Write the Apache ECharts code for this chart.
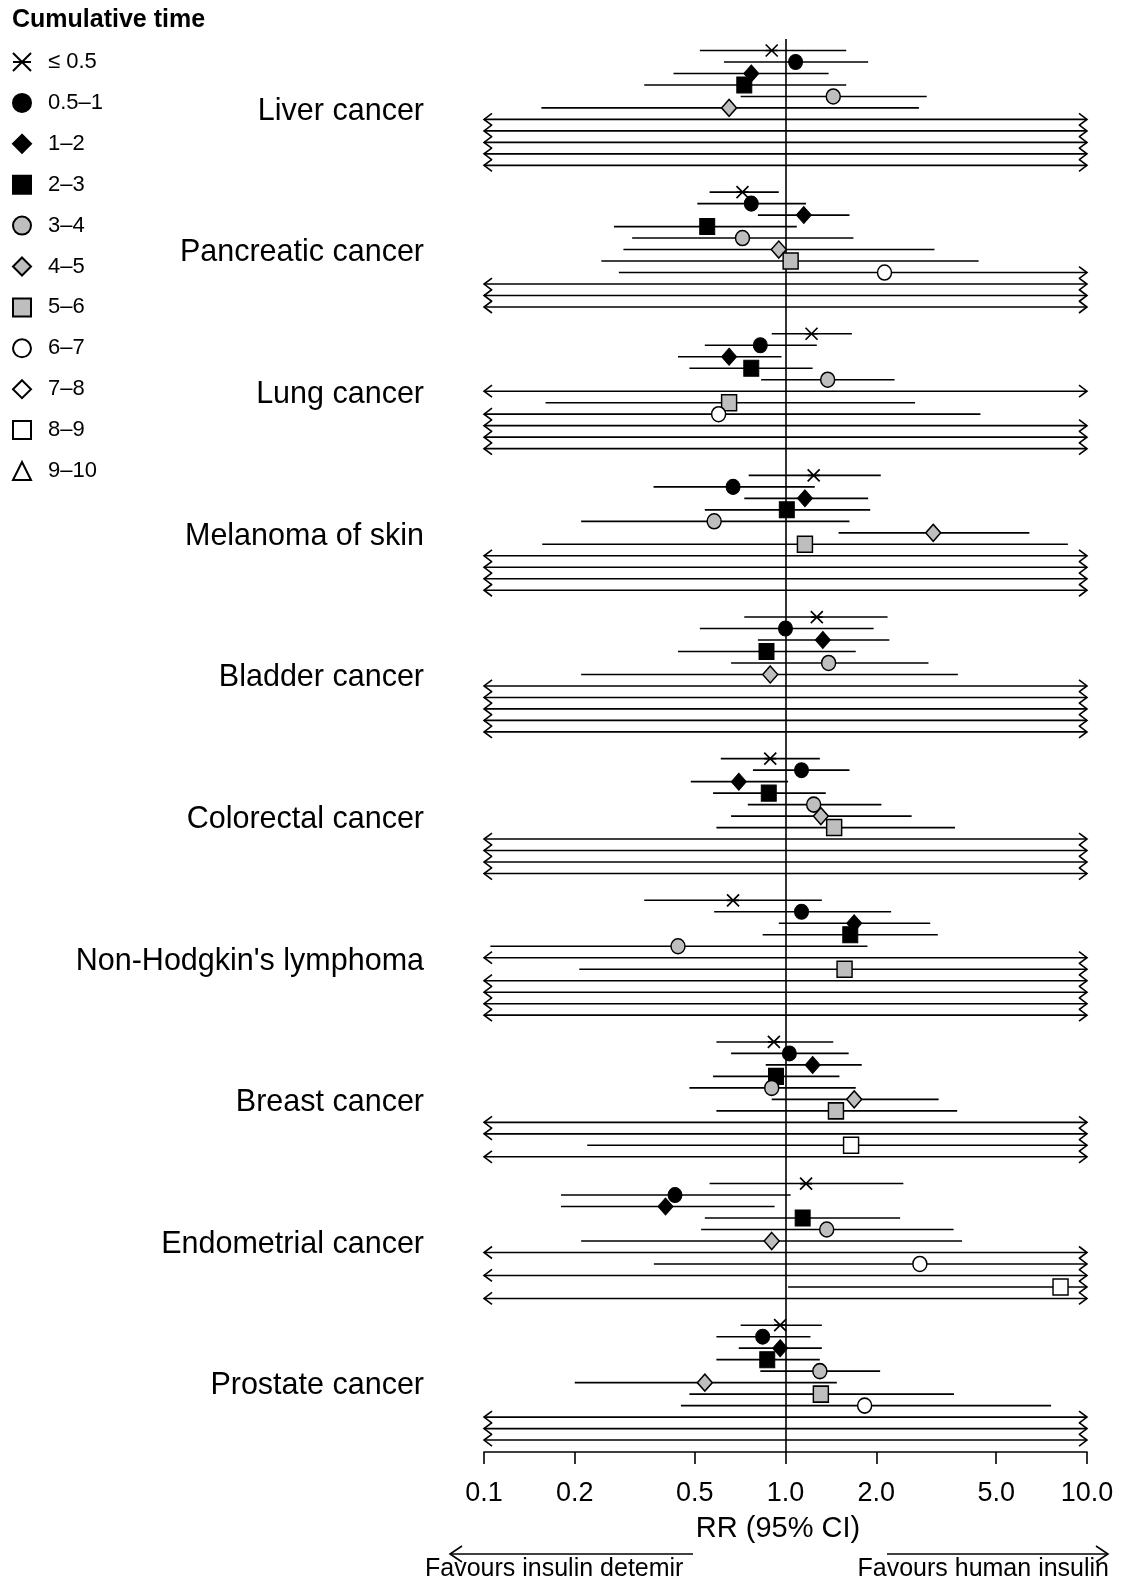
<!DOCTYPE html>
<html>
<head>
<meta charset="utf-8">
<script src="https://cdn.jsdelivr.net/npm/echarts@6/dist/echarts.min.js"></script>
<style>
html,body{margin:0;padding:0;background:#fff;}
#chart{width:1124px;height:1579px;}
</style>
</head>
<body>
<div id="chart"></div>
<script>
// ---------------- data ----------------
const cancers = ['Liver cancer','Pancreatic cancer','Lung cancer','Melanoma of skin','Bladder cancer',
  'Colorectal cancer',"Non-Hodgkin's lymphoma",'Breast cancer','Endometrial cancer','Prostate cancer'];
const timeBins = ['\u2264 0.5','0.5\u20131','1\u20132','2\u20133','3\u20134','4\u20135','5\u20136','6\u20137','7\u20138','8\u20139','9\u201310'];
const xTicks = [0.1, 0.2, 0.5, 1, 2, 5, 10];

// RR point estimates (null = not estimable), lower / upper 95% CI (null = beyond axis range)
const liverRR = [0.90, 1.08, 0.77, 0.73, 1.44, 0.65, null, null, null, null, null];
const liverLo = [0.52, 0.625, 0.425, 0.34, 0.71, 0.155, null, null, null, null, null];
const liverHi = [1.59, 1.88, 1.39, 1.59, 2.94, 2.77, null, null, null, null, null];

const pancRR = [0.72, 0.77, 1.15, 0.55, 0.72, 0.95, 1.04, 2.13, null, null, null];
const pancLo = [0.56, 0.51, 0.81, 0.27, 0.31, 0.29, 0.245, 0.28, null, null, null];
const pancHi = [0.95, 1.17, 1.63, 1.09, 1.68, 3.12, 4.37, null, null, null, null];

const lungRR = [1.22, 0.825, 0.65, 0.77, 1.38, null, 0.65, 0.60, null, null, null];
const lungLo = [0.90, 0.54, 0.44, 0.48, 0.83, null, 0.16, null, null, null, null];
const lungHi = [1.66, 1.27, 0.97, 1.23, 2.30, null, 2.69, 4.43, null, null, null];

const melaRR = [1.24, 0.67, 1.16, 1.01, 0.58, 3.09, 1.16, null, null, null, null];
const melaLo = [0.755, 0.365, 0.73, 0.54, 0.21, 1.50, 0.156, null, null, null, null];
const melaHi = [2.07, 1.25, 1.88, 1.91, 1.63, 6.44, 8.64, null, null, null, null];

const bladRR = [1.27, 1.00, 1.33, 0.865, 1.39, 0.89, null, null, null, null, null];
const bladLo = [0.73, 0.52, 0.81, 0.44, 0.66, 0.21, null, null, null, null, null];
const bladHi = [2.18, 1.96, 2.21, 1.71, 2.98, 3.73, null, null, null, null, null];

const coloRR = [0.89, 1.13, 0.70, 0.88, 1.24, 1.31, 1.45, null, null, null, null];
const coloLo = [0.61, 0.78, 0.485, 0.575, 0.75, 0.66, 0.59, null, null, null, null];
const coloHi = [1.30, 1.63, 1.02, 1.36, 2.08, 2.62, 3.65, null, null, null, null];

const nhlRR = [0.67, 1.13, 1.69, 1.64, 0.44, null, 1.57, null, null, null, null];
const nhlLo = [0.34, 0.58, 0.95, 0.84, 0.105, null, 0.207, null, null, null, null];
const nhlHi = [1.32, 2.24, 3.02, 3.20, 1.87, null, null, null, null, null, null];

const breaRR = [0.915, 1.03, 1.23, 0.93, 0.90, 1.69, 1.47, null, null, 1.65, null];
const breaLo = [0.59, 0.66, 0.86, 0.575, 0.48, 0.90, 0.59, null, null, 0.22, null];
const breaHi = [1.44, 1.62, 1.79, 1.51, 1.71, 3.22, 3.71, null, null, null, null];

const endoRR = [1.17, 0.43, 0.40, 1.14, 1.37, 0.90, null, 2.79, null, 8.17, null];
const endoLo = [0.56, 0.18, 0.18, 0.54, 0.525, 0.21, null, 0.366, null, 1.02, null];
const endoHi = [2.46, 1.04, 0.92, 2.40, 3.61, 3.85, null, null, null, null, null];

const prosRR = [0.96, 0.84, 0.96, 0.87, 1.30, 0.54, 1.31, 1.83, null, null, null];
const prosLo = [0.71, 0.59, 0.70, 0.59, 0.825, 0.20, 0.48, 0.45, null, null, null];
const prosHi = [1.32, 1.21, 1.32, 1.30, 2.06, 1.48, 3.62, 7.6, null, null, null];

// ---------------- build ----------------
const RR = [liverRR, pancRR, lungRR, melaRR, bladRR, coloRR, nhlRR, breaRR, endoRR, prosRR];
const LO = [liverLo, pancLo, lungLo, melaLo, bladLo, coloLo, nhlLo, breaLo, endoLo, prosLo];
const HI = [liverHi, pancHi, lungHi, melaHi, bladHi, coloHi, nhlHi, breaHi, endoHi, prosHi];

const STEP = 12.33;          // rows per cancer block incl. gap
const LABEL_ROW = 5.3;       // where the cancer name sits inside its block
const XMIN = 0.1, XMAX = 10;
const rowY = (g, k) => g * STEP + k;
const FONT = "'Liberation Sans', Arial, sans-serif";

const ciData = [];
cancers.forEach((c, g) => {
  timeBins.forEach((t, k) => {
    const est = RR[g][k];
    const lo = est == null ? null : LO[g][k];
    const hi = est == null ? null : HI[g][k];
    ciData.push([lo == null ? XMIN : lo, hi == null ? XMAX : hi, rowY(g, k), lo == null ? 1 : 0, hi == null ? 1 : 0]);
  });
});

const GREY = '#bebebe';
const X_PATH = 'path://M0,0L10,10M10,0L0,10M0,5L10,5';
const styles = [
  { symbol: X_PATH, fill: '#000', size: [12, 12], bw: 1.7 },
  { symbol: 'circle', fill: '#000', size: [14, 15], bw: 1 },
  { symbol: 'diamond', fill: '#000', size: [15, 17], bw: 1 },
  { symbol: 'rect', fill: '#000', size: [15, 16], bw: 1 },
  { symbol: 'circle', fill: GREY, size: [14, 15], bw: 1.5 },
  { symbol: 'diamond', fill: GREY, size: [15, 17], bw: 1.5 },
  { symbol: 'rect', fill: GREY, size: [15, 16], bw: 1.5 },
  { symbol: 'circle', fill: '#fff', size: [14, 15], bw: 1.5 },
  { symbol: 'diamond', fill: '#fff', size: [15, 17], bw: 1.5 },
  { symbol: 'rect', fill: '#fff', size: [15, 16], bw: 1.5 },
  { symbol: 'triangle', fill: '#fff', size: [15, 15], bw: 1.5 }
];

const AH = 8, AW = 6;
const series = [{
  type: 'custom',
  name: 'ci',
  z: 2,
  silent: true,
  encode: { x: [0, 1], y: 2 },
  data: ciData,
  renderItem: function (params, api) {
    const y = api.value(2);
    const p1 = api.coord([api.value(0), y]);
    const p2 = api.coord([api.value(1), y]);
    const st = { stroke: '#000', lineWidth: 1.6, fill: 'none' };
    const ch = [{ type: 'line', shape: { x1: p1[0], y1: p1[1], x2: p2[0], y2: p2[1] }, style: st }];
    if (api.value(3)) ch.push({ type: 'polyline', shape: { points: [[p1[0] + AH, p1[1] - AW], [p1[0], p1[1]], [p1[0] + AH, p1[1] + AW]] }, style: st });
    if (api.value(4)) ch.push({ type: 'polyline', shape: { points: [[p2[0] - AH, p2[1] - AW], [p2[0], p2[1]], [p2[0] - AH, p2[1] + AW]] }, style: st });
    return { type: 'group', children: ch };
  },
  markLine: {
    silent: true, symbol: ['none', 'none'], label: { show: false },
    lineStyle: { color: '#000', width: 1.6, type: 'solid' },
    data: [{ xAxis: 1 }]
  }
}];

timeBins.forEach((t, k) => {
  const s = styles[k];
  const data = [];
  cancers.forEach((c, g) => { if (RR[g][k] != null) data.push([RR[g][k], rowY(g, k)]); });
  series.push({
    type: 'scatter', name: t, z: 5, silent: true,
    symbol: s.symbol, symbolSize: s.size,
    itemStyle: { color: s.fill, borderColor: '#000', borderWidth: s.bw, opacity: 1 },
    data: data
  });
});

const chart = echarts.init(document.getElementById('chart'), null, { renderer: 'canvas' });
chart.setOption({
  animation: false,
  backgroundColor: '#fff',
  textStyle: { fontFamily: FONT, color: '#000' },
  title: { text: 'Cumulative time', left: 12, top: 8, padding: 0, textStyle: { fontSize: 25, fontWeight: 'bold', color: '#000', fontFamily: FONT } },
  legend: {
    data: timeBins, orient: 'vertical', left: 12, top: 51, padding: 0,
    itemWidth: 18, itemHeight: 18, itemGap: 18.9, selectedMode: false,
    textStyle: { fontSize: 22, color: '#000', fontFamily: FONT, lineHeight: 18, padding: [0, 0, 0, 12] }
  },
  grid: { left: 484, width: 603, top: 39, height: 1412.9, containLabel: false },
  xAxis: {
    type: 'log', logBase: 10, min: XMIN, max: XMAX,
    splitLine: { show: false }, minorTick: { show: false },
    axisLine: { show: true, onZero: false, lineStyle: { color: '#000', width: 1.6 } },
    axisTick: { show: true, length: 12, customValues: xTicks, lineStyle: { color: '#000', width: 1.6 } },
    axisLabel: { customValues: xTicks, formatter: v => Number(v).toFixed(1), fontSize: 27, color: '#000', margin: 28, fontFamily: FONT },
    name: 'RR (95% CI)', nameLocation: 'middle', nameGap: 63,
    nameTextStyle: { fontSize: 29, color: '#000', fontFamily: FONT, padding: [0, 15, 0, 0] }
  },
  yAxis: {
    type: 'value', inverse: true, min: -1, max: 122,
    splitLine: { show: false }, axisLine: { show: false }, axisTick: { show: false },
    axisLabel: {
      customValues: cancers.map((c, g) => rowY(g, LABEL_ROW)),
      formatter: v => cancers[Math.round((v - LABEL_ROW) / STEP)] || '',
      fontSize: 30.5, color: '#000', margin: 60, fontFamily: FONT
    }
  },
  graphic: [
    { type: 'line', shape: { x1: 450, y1: 1554, x2: 693, y2: 1554 }, style: { stroke: '#000', lineWidth: 1.6 } },
    { type: 'polyline', shape: { points: [[462, 1546], [450, 1554], [462, 1562]] }, style: { stroke: '#000', lineWidth: 1.6, fill: 'none' } },
    { type: 'line', shape: { x1: 887, y1: 1554, x2: 1108, y2: 1554 }, style: { stroke: '#000', lineWidth: 1.6 } },
    { type: 'polyline', shape: { points: [[1096, 1546], [1108, 1554], [1096, 1562]] }, style: { stroke: '#000', lineWidth: 1.6, fill: 'none' } },
    { type: 'text', x: 425, y: 1569, style: { text: 'Favours insulin detemir', fontSize: 25, fontFamily: FONT, fill: '#000', verticalAlign: 'middle', align: 'left' } },
    { type: 'text', x: 1109, y: 1569, style: { text: 'Favours human insulin', fontSize: 25, fontFamily: FONT, fill: '#000', verticalAlign: 'middle', align: 'right' } }
  ],
  series: series
});
</script>
</body>
</html>
